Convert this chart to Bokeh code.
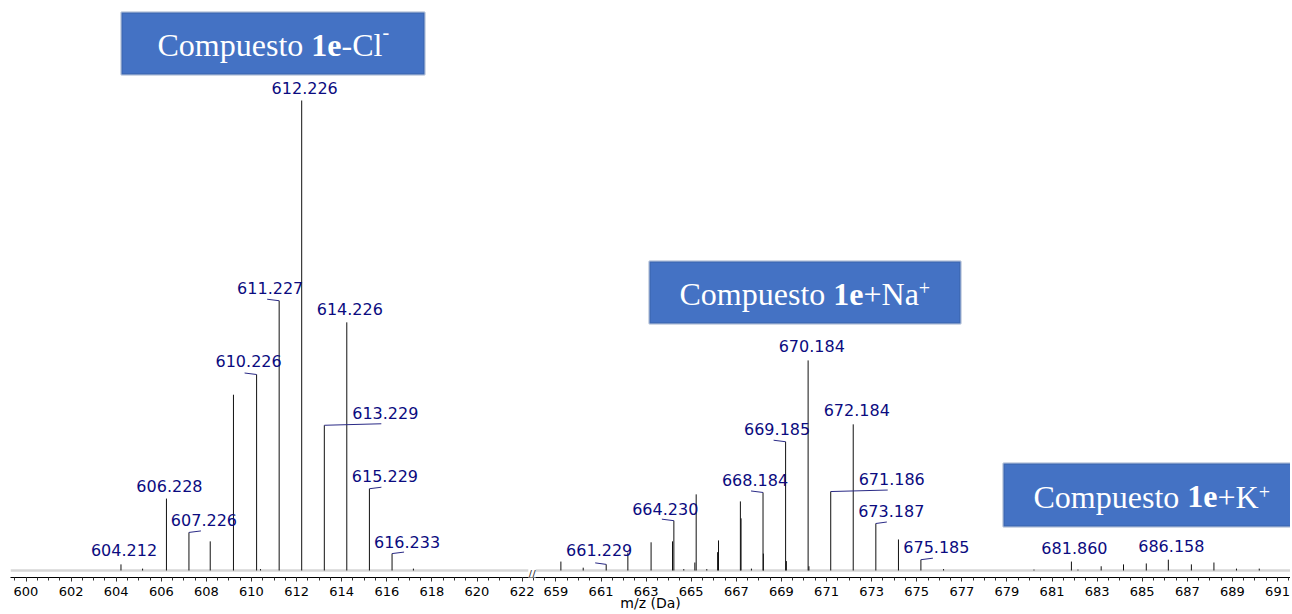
from bokeh.plotting import figure
from bokeh.models import (ColumnDataSource, BoxAnnotation, Label, FixedTicker,
                          CustomJSTickFormatter, Range1d)
from bokeh.core.properties import value
from bokeh.embed import file_html
from bokeh.resources import INLINE

# ---------------- data (relative intensity, %) ----------------
cl_mz = [604.212, 605.17, 606.228, 607.226, 608.17, 609.20, 610.226, 610.40,
         611.227, 612.226, 613.229, 614.226, 615.229, 616.233, 617.18]
cl_int = [1.3, 0.4, 15.3, 8.1, 6.2, 37.4, 41.7, 0.3,
          57.4, 100.0, 30.9, 52.8, 17.4, 3.6, 0.4]

adduct_mz = [659.22, 660.21, 661.229, 662.19, 663.22, 664.17, 664.230, 664.67,
             665.16, 665.22, 665.69, 666.17, 666.21, 667.18, 667.21, 667.67,
             668.184, 668.20, 669.185, 669.22, 670.184, 670.22, 671.186, 672.184,
             673.187, 674.19, 675.185, 676.19, 680.20, 681.860, 682.15, 683.18,
             684.17, 685.18, 686.158, 687.18, 688.18, 689.18, 690.19]
adduct_int = [1.9, 0.6, 1.3, 3.8, 6.0, 6.2, 10.6, 0.3,
              1.7, 16.2, 0.3, 3.9, 6.4, 14.7, 11.1, 0.4,
              16.6, 3.6, 27.4, 2.0, 44.7, 0.9, 16.8, 31.1,
              10.0, 6.6, 2.3, 0.3, 0.2, 1.9, 0.2, 0.9,
              1.3, 1.5, 2.3, 1.3, 1.7, 0.4, 0.4]

labeled_mz = [604.212, 606.228, 607.226, 610.226, 611.227, 612.226, 613.229,
              614.226, 615.229, 616.233,
              661.229, 664.230, 668.184, 669.185, 670.184, 671.186, 672.184,
              673.187, 675.185, 681.860, 686.158]

left_ticks = list(range(600, 623, 2))
right_ticks = list(range(659, 692, 2))

x_title = "m/z (Da)"

# ---------------- layout / style (pixels) ----------------
label_dx = [3, 3, 15, -8, -9, 3, 61, 3, 15.5, 15,
            -7, -8.6, -8, -8.5, 3.6, 61, 3.5, 15.4, 15.5, 3, 3]
label_dy = [-14, -13, -12, -14, -13, -13, -12, -13, -13, -11.5,
            -14, -12, -12, -13, -14, -13, -14, -13, -13, -14, -14]
lead_dx = [0, 0, 12, -12, -12, 0, 57, 0, 12, 12,
           -11, -12, -12, -12, 0, 57, 0, 11, 12, 0, 0]

PX_PER_X = 22.55          # px per m/z unit
PX_PER_Y = 4.7            # px per % intensity
X0_PAGE = 25.5            # page x of m/z 600
BASE_PAGE = 570.0         # page y of 0 %
OFFSET = 35.5             # axis break shift for the adduct segment
BREAK = 622.35

def xp(mz):
    return mz if mz < 640 else mz - OFFSET

def px2x(X):
    return 600 + (X - X0_PAGE) / PX_PER_X

def py2y(Y):
    return (BASE_PAGE - Y) / PX_PER_Y

W, H = 1290, 614
FRAME_L, FRAME_B = 10, 577
x_start, x_end = px2x(FRAME_L), px2x(W)
y_start, y_end = py2y(FRAME_B), py2y(0)

p = figure(width=W, height=H, x_range=Range1d(x_start, x_end),
           y_range=Range1d(y_start, y_end), output_backend="svg",
           toolbar_location=None, title=None,
           min_border_left=FRAME_L, min_border_right=0, min_border_top=0,
           min_border_bottom=H - FRAME_B)
p.yaxis.visible = False
p.xgrid.visible = False
p.ygrid.visible = False
p.outline_line_color = None
p.background_fill_color = "white"
p.border_fill_color = "white"

# gray baseline with a small break
p.segment(x0=[x_start, px2x(533.5)], y0=[0, 0], x1=[px2x(531.3), x_end], y1=[0, 0],
          line_color="#d6d6d6", line_width=2.5)

# peaks
all_mz = cl_mz + adduct_mz
all_int = cl_int + adduct_int
peaks = ColumnDataSource(dict(x=[xp(m) for m in all_mz], y0=[0] * len(all_int), y1=all_int))
p.segment(x0="x", y0="y0", x1="x", y1="y1", source=peaks, line_color="#111111", line_width=1)

# labels + leaders
lookup = dict(zip(all_mz, all_int))
lab_x, lab_y, lab_t, l_x0, l_y0, l_x1, l_y1 = [], [], [], [], [], [], []
for m, dx, dy, ld in zip(labeled_mz, label_dx, label_dy, lead_dx):
    inten = lookup[m]
    lab_x.append(xp(m) + dx / PX_PER_X)
    lab_y.append(inten - dy / PX_PER_Y)
    lab_t.append(f"{m:.3f}")
    if ld != 0:
        l_x0.append(xp(m)); l_y0.append(inten)
        l_x1.append(xp(m) + ld / PX_PER_X); l_y1.append(inten + 1.5 / PX_PER_Y)

p.segment(x0=l_x0, y0=l_y0, x1=l_x1, y1=l_y1, line_color="#2a2a86", line_width=1)
p.text(x=lab_x, y=lab_y, text=lab_t, text_font=value("DejaVu Sans"),
       text_font_size="16px", text_color="#0b0b80", text_align="center",
       text_baseline="middle")

# axis
minor = [v / 2 for v in range(1199, 1245)] + [xp(v / 2) for v in range(1316, 1384)]
p.xaxis.ticker = FixedTicker(ticks=left_ticks + [xp(t) for t in right_ticks],
                             minor_ticks=minor)
p.xaxis.formatter = CustomJSTickFormatter(
    code=f"const v = tick > {BREAK} ? tick + {OFFSET} : tick; return v.toFixed(0);")
p.xaxis.axis_line_color = "black"
p.xaxis.axis_line_width = 1
p.xaxis.major_tick_in = 0
p.xaxis.major_tick_out = 4
p.xaxis.minor_tick_in = 0
p.xaxis.minor_tick_out = 3
p.xaxis.major_tick_line_color = "#333333"
p.xaxis.minor_tick_line_color = "#333333"
p.xaxis.major_label_text_font = "DejaVu Sans"
p.xaxis.major_label_text_font_size = "13px"
p.xaxis.major_label_text_color = "black"
p.xaxis.major_label_standoff = 5
p.xaxis.axis_label = x_title
p.xaxis.axis_label_text_font = "DejaVu Sans"
p.xaxis.axis_label_text_font_size = "14px"
p.xaxis.axis_label_text_font_style = "normal"
p.xaxis.axis_label_text_color = "black"
p.xaxis.axis_label_standoff = -4

# axis break mark
p.add_layout(Label(x=px2x(531.5), y=py2y(574), text="//", text_font_size="11px",
                   text_font="DejaVu Sans", text_color="#333333",
                   text_align="center", text_baseline="middle",
                   background_fill_color="white"))

# title boxes
FS = 32
def add_box(left, right, top, bottom, x_text, base, tail, sup, sup_raise):
    p.add_layout(BoxAnnotation(left=px2x(left), right=px2x(right), top=py2y(top),
                               bottom=py2y(bottom), fill_color="#4472C4", fill_alpha=1,
                               line_color="#2F528F", line_width=2.5))
    x = x_text
    pieces = [("Compuesto", "normal", FS, 0, 4.806),
              ("1e", "bold", FS, 0, 0.944),
              (tail, "normal", FS, 0, None),
              (sup, "normal", 20, sup_raise, None)]
    widths = {"-Cl": 1.278, "+Na": 1.730, "+K": 1.286}
    for txt, style, fs, raise_, w in pieces:
        p.add_layout(Label(x=px2x(x), y=py2y(base - raise_), text=txt,
                           text_font="Liberation Serif", text_font_size=f"{fs}px",
                           text_font_style=style, text_color="white",
                           text_align="left", text_baseline="alphabetic"))
        if w is None:
            w = widths.get(txt, 0)
        x += w * fs

add_box(121, 424, 12, 74, 157, 44.5, "-Cl", "-", 13)
add_box(649, 960, 261, 323, 679, 293.5, "+Na", "+", 6)
add_box(1003, 1300, 463, 526, 1033, 496, "+K", "+", 5)

open("out.html", "w").write(file_html(p, INLINE))
